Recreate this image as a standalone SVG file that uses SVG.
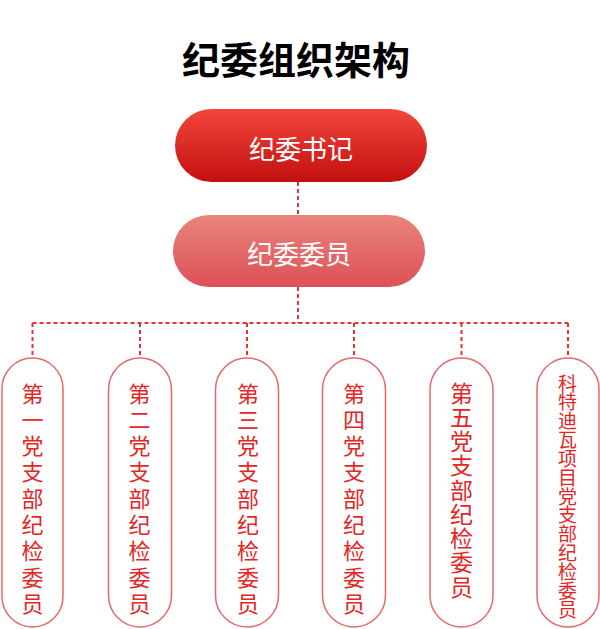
<svg xmlns="http://www.w3.org/2000/svg" width="600" height="629" viewBox="0 0 600 629">
<defs>
<linearGradient id="g1" x1="0" y1="0" x2="0" y2="1">
<stop offset="0" stop-color="#f2463c"/>
<stop offset="1" stop-color="#c3100f"/>
</linearGradient>
<linearGradient id="g2" x1="0" y1="0" x2="0" y2="1">
<stop offset="0" stop-color="#e9847c"/>
<stop offset="1" stop-color="#dc5157"/>
</linearGradient>
<style>
.t{font-family:"Noto Sans CJK SC","Noto Sans",sans-serif;}
.title{font-size:38px;font-weight:bold;fill:#000;}
.w{font-size:26px;fill:#fff;}
.box{fill:#fff;stroke:#e46a6a;stroke-width:1.5;}
.v{fill:#e32626;font-size:22px;}
.dash{fill:none;stroke:#e63232;stroke-width:2;stroke-dasharray:4 3;}
</style>
</defs>
<text class="t title" x="296" y="57" text-anchor="middle" dominant-baseline="central">纪委组织架构</text>
<g id="connectors">
<path class="dash" d="M298 182V215M298 287V323M32.5 323H568M32.5 323V358M140 323V358M247 323V358M354 323V358M461.5 323V358M568 323V358"/>
</g>
<g id="n-secretary">
<rect x="175" y="109" width="252" height="73" rx="36.5" fill="url(#g1)"/>
<text class="t w" x="301" y="147" text-anchor="middle" dominant-baseline="central">纪委书记</text>
</g>
<g id="n-members">
<rect x="173" y="215" width="252" height="72" rx="36" fill="url(#g2)"/>
<text class="t w" x="299" y="252" text-anchor="middle" dominant-baseline="central">纪委委员</text>
</g>
<g id="n-b1">
<rect class="box" x="2" y="358" width="61" height="269" rx="30.5"/>
<text class="t v" text-anchor="middle" dominant-baseline="central"><tspan x="32.5" y="391.5">第</tspan><tspan x="32.5" y="417.8">一</tspan><tspan x="32.5" y="444.1">党</tspan><tspan x="32.5" y="470.4">支</tspan><tspan x="32.5" y="496.7">部</tspan><tspan x="32.5" y="523">纪</tspan><tspan x="32.5" y="549.3">检</tspan><tspan x="32.5" y="575.6">委</tspan><tspan x="32.5" y="601.9">员</tspan></text>
</g>
<g id="n-b2">
<rect class="box" x="108.5" y="358" width="63" height="269" rx="31.5"/>
<text class="t v" text-anchor="middle" dominant-baseline="central"><tspan x="139.5" y="391.5">第</tspan><tspan x="139.5" y="417.8">二</tspan><tspan x="139.5" y="444.1">党</tspan><tspan x="139.5" y="470.4">支</tspan><tspan x="139.5" y="496.7">部</tspan><tspan x="139.5" y="523">纪</tspan><tspan x="139.5" y="549.3">检</tspan><tspan x="139.5" y="575.6">委</tspan><tspan x="139.5" y="601.9">员</tspan></text>
</g>
<g id="n-b3">
<rect class="box" x="215.5" y="358" width="63" height="269" rx="31.5"/>
<text class="t v" text-anchor="middle" dominant-baseline="central"><tspan x="248" y="391.5">第</tspan><tspan x="248" y="417.8">三</tspan><tspan x="248" y="444.1">党</tspan><tspan x="248" y="470.4">支</tspan><tspan x="248" y="496.7">部</tspan><tspan x="248" y="523">纪</tspan><tspan x="248" y="549.3">检</tspan><tspan x="248" y="575.6">委</tspan><tspan x="248" y="601.9">员</tspan></text>
</g>
<g id="n-b4">
<rect class="box" x="322.5" y="358" width="63" height="269" rx="31.5"/>
<text class="t v" text-anchor="middle" dominant-baseline="central"><tspan x="354" y="391.5">第</tspan><tspan x="354" y="417.8">四</tspan><tspan x="354" y="444.1">党</tspan><tspan x="354" y="470.4">支</tspan><tspan x="354" y="496.7">部</tspan><tspan x="354" y="523">纪</tspan><tspan x="354" y="549.3">检</tspan><tspan x="354" y="575.6">委</tspan><tspan x="354" y="601.9">员</tspan></text>
</g>
<g id="n-b5">
<rect class="box" x="430" y="358" width="63" height="269" rx="31.5"/>
<text class="t v" text-anchor="middle" dominant-baseline="central" style="font-size:23px"><tspan x="461.5" y="391.5">第</tspan><tspan x="461.5" y="415.8">五</tspan><tspan x="461.5" y="440">党</tspan><tspan x="461.5" y="464.3">支</tspan><tspan x="461.5" y="488.5">部</tspan><tspan x="461.5" y="512.8">纪</tspan><tspan x="461.5" y="537">检</tspan><tspan x="461.5" y="561.3">委</tspan><tspan x="461.5" y="585.5">员</tspan></text>
</g>
<g id="n-b6">
<rect class="box" x="537" y="358" width="62" height="269" rx="31"/>
<text class="t v" text-anchor="middle" dominant-baseline="central" style="font-size:19px"><tspan x="567.5" y="381.5">科</tspan><tspan x="567.5" y="400.3">特</tspan><tspan x="567.5" y="419.2">迪</tspan><tspan x="567.5" y="438">瓦</tspan><tspan x="567.5" y="456.8">项</tspan><tspan x="567.5" y="475.7">目</tspan><tspan x="567.5" y="494.5">党</tspan><tspan x="567.5" y="513.3">支</tspan><tspan x="567.5" y="532.2">部</tspan><tspan x="567.5" y="551">纪</tspan><tspan x="567.5" y="569.8">检</tspan><tspan x="567.5" y="588.7">委</tspan><tspan x="567.5" y="607.5">员</tspan></text>
</g>
</svg>
